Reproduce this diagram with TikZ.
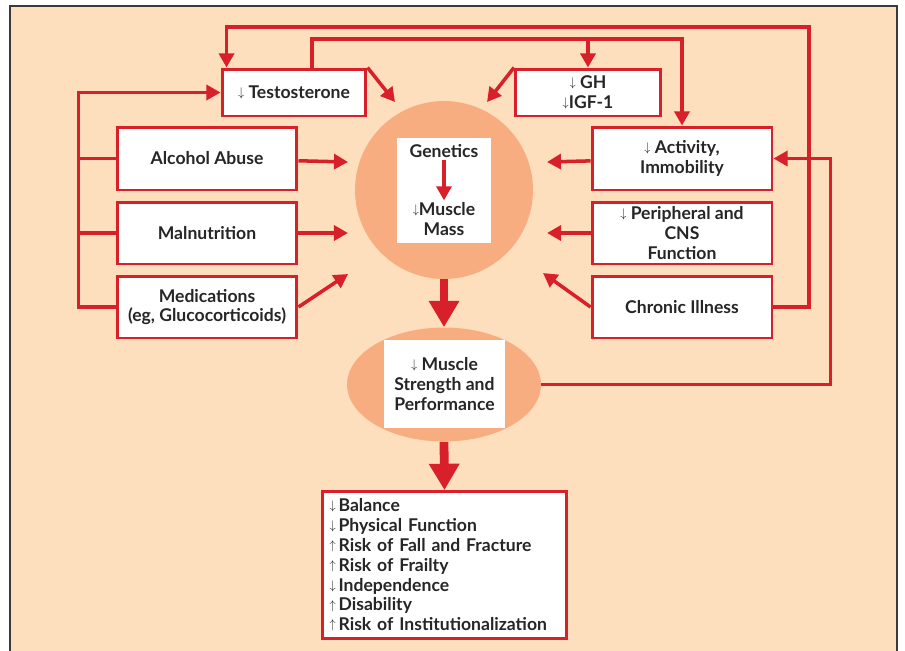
\documentclass[tikz,border=0pt]{standalone}
\usepackage{fontspec}
\setmainfont{Lato}
\usepackage{xcolor}
\usepackage{graphicx}
\usepackage{tikz}
\usetikzlibrary{shapes.geometric,arrows.meta,positioning,calc}

\definecolor{peach}{HTML}{FDDFBE}
\definecolor{salmon}{HTML}{F8AD80}
\definecolor{fred}{HTML}{D8202A}
\definecolor{framegray}{HTML}{3A3A3A}

% small arrows in front of the labels
\newcommand{\decr}{\raisebox{1.1pt}{\scalebox{0.7}[0.72]{$\downarrow$}}}
\newcommand{\incr}{\raisebox{1.1pt}{\scalebox{0.7}[0.72]{$\uparrow$}}}

\begin{document}
\begin{tikzpicture}[x=0.02cm, y=-0.02cm,
    lbl/.style={font=\bfseries\fontsize{10}{11.3}\selectfont, text=black!85, align=center},
    redbox/.style={lbl, draw=fred, line width=1.7pt, fill=white, inner sep=2pt},
    arr/.style={-{Triangle[length=8pt,width=8.5pt]}, draw=fred, line width=2pt},
    fbline/.style={draw=fred, line width=2pt},
    bigarr/.style={-{Triangle[length=15pt,width=16.5pt]}, draw=fred, line width=5pt},
  ]
    \useasboundingbox (0,0) rectangle (905,650);
    \fill[white] (0,0) rectangle (905,650);
    \draw[fill=peach, draw=framegray, line width=1pt] (10,6) rectangle (897,660);

    % central circle and ellipse
    \node[circle, fill=salmon, minimum size=3.56cm, inner sep=0pt] (mass) at (444,190) {};
    \node[fill=white, minimum width=1.88cm, minimum height=2.1cm] (massbox) at (444,190.5) {};
    \node[lbl, inner sep=1pt] (gen) at (444,151) {Genetics};
    \node[lbl, inner sep=1pt] (mm) at (444,219) {\decr Muscle\\Mass};

    \node[ellipse, fill=salmon, minimum width=3.88cm, minimum height=2.28cm] (perf) at (444,384.5) {};
    \node[lbl, fill=white, minimum width=2.42cm, minimum height=1.76cm] (perftxt) at (444.5,384)
      {\decr\ Muscle\\Strength and\\Performance};

    % causes
    \node[redbox, minimum width=2.88cm, minimum height=0.94cm] (testo) at (294,92.5) {\decr\ Testosterone};
    \node[redbox, minimum width=2.9cm, minimum height=0.94cm] (gh) at (588,92.5) {\decr\ GH\\\decr IGF-1};
    \node[redbox, minimum width=3.6cm, minimum height=1.26cm] (alc) at (207,158.5) {Alcohol Abuse};
    \node[redbox, minimum width=3.6cm, minimum height=1.24cm] (mal) at (207,233) {Malnutrition};
    \node[redbox, minimum width=3.6cm, minimum height=1.24cm] (med) at (207,307) {Medications\\(eg, Glucocorticoids)};
    \node[redbox, minimum width=3.6cm, minimum height=1.26cm] (act) at (682,158.5) {\decr\ Activity,\\Immobility};
    \node[redbox, minimum width=3.6cm, minimum height=1.24cm] (per) at (682,233) {\decr\ Peripheral and\\CNS\\Function};
    \node[redbox, minimum width=3.6cm, minimum height=1.24cm] (chr) at (682,307) {Chronic Illness};

    % outcomes
    \node[redbox, align=left, text width=4.6cm, inner sep=4pt] (outc) at (444.5,565)
      {\decr\,Balance\\
       \decr\,Physical Function\\
       \incr\,Risk of Fall and Fracture\\
       \incr\,Risk of Frailty\\
       \decr\,Independence\\
       \incr\,Disability\\
       \incr\,Risk of Institutionalization};

    % arrow tips around the circle
    \coordinate (inA) at (348,162);
    \coordinate (inB) at (348,233);
    \coordinate (inC) at (348,274);
    \coordinate (inD) at (547,162);
    \coordinate (inE) at (547,233);
    \coordinate (inF) at (543,273);
    \coordinate (inG) at (395,102);
    \coordinate (inH) at (487,102);

    \draw[arr] (alc) -- (inA);
    \draw[arr] (mal) -- (inB);
    \draw[arr] (med.east) -- (inC);
    \draw[arr] (act) -- (inD);
    \draw[arr] (per) -- (inE);
    \draw[arr] (chr.west) -- (inF);
    \draw[arr] (testo.north east) -- (inG);
    \draw[arr] (gh.north west) -- (inH);
    \draw[arr] (gen.south) -- (mm.north);

    % main flow
    \draw[bigarr] (mass.south) -- (perf.north);
    \draw[bigarr] (perf.south) -- (outc.north);

    % feedback loops
    \coordinate (topA) at (809,27);
    \coordinate (topB) at (682,39);
    \draw[arr] (chr.east) -| (topA) -| ($(testo.north west)+(6,0)$);
    \draw[arr] ($(testo.north)+(18,0)$) |- (topB) -- (act.north);
    \draw[arr] (gh.north |- topB) -- (gh.north);
    \draw[arr] (perf.east) -- ++(289,0) |- (act.east);

    % left bus
    \draw[arr] (med.west) -- ++(-37,0) |- (testo.west);
    \draw[fbline] (alc.west) -- ++(-37,0);
    \draw[fbline] (mal.west) -- ++(-37,0);
  \end{tikzpicture}
\end{document}
